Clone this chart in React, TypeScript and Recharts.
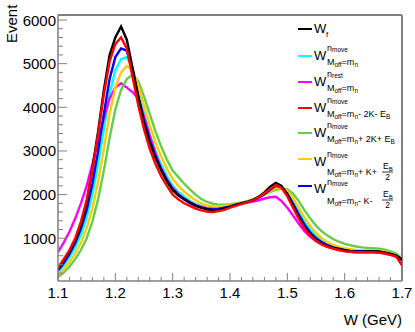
import { LineChart, Line, XAxis, YAxis, ReferenceLine } from 'recharts'

const FONT = 'Liberation Sans, Arial, Helvetica, sans-serif'
const AXIS = '#808080'

// bin centres (GeV)
const wBins = [
  1.1, 1.11, 1.12, 1.13, 1.14, 1.15, 1.16, 1.17, 1.18, 1.19,
  1.2, 1.21, 1.22, 1.23, 1.24, 1.25, 1.26, 1.27, 1.28, 1.29,
  1.3, 1.31, 1.32, 1.33, 1.34, 1.35, 1.36, 1.37, 1.38, 1.39,
  1.4, 1.41, 1.42, 1.43, 1.44, 1.45, 1.46, 1.47, 1.48, 1.49,
  1.5, 1.51, 1.52, 1.53, 1.54, 1.55, 1.56, 1.57, 1.58, 1.59,
  1.6, 1.61, 1.62, 1.63, 1.64, 1.65, 1.66, 1.67, 1.68, 1.69,
  1.7,
]

const wF = [
  300, 500, 700, 950, 1300, 1800, 2600, 3450, 4400, 5200,
  5600, 5850, 5550, 4900, 4250, 3650, 3200, 2850, 2550, 2300,
  2100, 1980, 1900, 1820, 1750, 1700, 1660, 1640, 1650, 1680,
  1720, 1760, 1800, 1830, 1880, 1950, 2050, 2180, 2270, 2200,
  2000, 1750, 1480, 1250, 1080, 960, 880, 820, 780, 750,
  720, 700, 690, 690, 700, 700, 690, 670, 640, 600,
  520,
]

const wMoveMn = [
  220, 370, 560, 790, 1080, 1470, 2000, 2700, 3500, 4300,
  4850, 5100, 5150, 4900, 4400, 3850, 3380, 3000, 2680, 2420,
  2200, 2060, 1950, 1860, 1790, 1740, 1700, 1690, 1700, 1720,
  1750, 1780, 1810, 1840, 1880, 1940, 2010, 2100, 2180, 2170,
  2060, 1850, 1610, 1380, 1190, 1050, 950, 870, 820, 780,
  750, 730, 720, 710, 710, 710, 700, 680, 650, 610,
  510,
]

const wRestMn = [
  680, 900, 1150, 1450, 1800, 2200, 2700, 3250, 3750, 4200,
  4450, 4550, 4450, 4350, 4200, 3800, 3350, 2950, 2600, 2350,
  2150, 2010, 1910, 1830, 1760, 1720, 1690, 1680, 1690, 1720,
  1750, 1780, 1800, 1820, 1840, 1870, 1910, 1940, 1950, 1850,
  1700, 1520, 1330, 1160, 1030, 930, 860, 800, 760, 730,
  710, 690, 680, 680, 680, 680, 670, 650, 620, 580,
  500,
]

const wMinus2K = [
  320, 520, 730, 1000, 1380, 1880, 2550, 3400, 4300, 5050,
  5450, 5600, 5350, 4700, 4050, 3500, 3050, 2700, 2420, 2200,
  2000, 1890, 1800, 1740, 1680, 1640, 1610, 1600, 1620, 1650,
  1700, 1740, 1780, 1820, 1870, 1940, 2030, 2130, 2220, 2150,
  1960, 1700, 1440, 1220, 1060, 940, 860, 800, 760, 730,
  700, 690, 680, 680, 680, 680, 670, 650, 620, 580,
  380,
]

const wPlus2K = [
  110, 210, 350, 520, 730, 1000, 1380, 1900, 2550, 3300,
  3950, 4400, 4650, 4750, 4600, 4250, 3850, 3450, 3100, 2800,
  2550, 2400, 2250, 2120, 2000, 1900, 1830, 1790, 1770, 1770,
  1780, 1800, 1820, 1850, 1890, 1940, 2000, 2060, 2110, 2140,
  2120, 2020, 1850, 1640, 1450, 1290, 1160, 1060, 980, 920,
  870, 840, 810, 790, 780, 770, 760, 740, 700, 650,
  540,
]

const wPlusK = [
  160, 290, 450, 650, 900, 1230, 1680, 2300, 3050, 3850,
  4450, 4800, 4950, 4850, 4500, 4050, 3600, 3200, 2870, 2590,
  2360, 2200, 2070, 1960, 1870, 1800, 1750, 1730, 1730, 1740,
  1760, 1780, 1810, 1840, 1880, 1930, 2000, 2080, 2150, 2160,
  2090, 1920, 1700, 1470, 1280, 1120, 1000, 910, 850, 800,
  770, 750, 730, 720, 720, 720, 710, 690, 660, 620,
  520,
]

const wMinusK = [
  260, 430, 640, 890, 1220, 1650, 2250, 3000, 3850, 4650,
  5150, 5350, 5300, 4850, 4250, 3700, 3250, 2880, 2580, 2330,
  2130, 1990, 1890, 1810, 1740, 1700, 1670, 1660, 1670, 1700,
  1730, 1770, 1800, 1830, 1870, 1930, 2010, 2110, 2200, 2170,
  2020, 1790, 1540, 1310, 1130, 1000, 910, 840, 790, 760,
  730, 710, 700, 700, 700, 700, 690, 670, 640, 600,
  500,
]

const xTicks = [
  1.1, 1.12, 1.14, 1.16, 1.18, 1.2, 1.22, 1.24, 1.26, 1.28,
  1.3, 1.32, 1.34, 1.36, 1.38, 1.4, 1.42, 1.44, 1.46, 1.48,
  1.5, 1.52, 1.54, 1.56, 1.58, 1.6, 1.62, 1.64, 1.66, 1.68, 1.7,
]
const xMajor = ['1.1', '1.2', '1.3', '1.4', '1.5', '1.6', '1.7']

const yTicks = [
  200, 400, 600, 800, 1000, 1200, 1400, 1600, 1800, 2000,
  2200, 2400, 2600, 2800, 3000, 3200, 3400, 3600, 3800, 4000,
  4200, 4400, 4600, 4800, 5000, 5200, 5400, 5600, 5800, 6000,
]
const yMajor = [1000, 2000, 3000, 4000, 5000, 6000]

const Y_MIN = 20
const Y_MAX = 6115

const COLORS = {
  wF: '#000000',
  wMoveMn: '#00ffff',
  wRestMn: '#ff00ff',
  wMinus2K: '#ff0000',
  wPlus2K: '#66cc4d',
  wPlusK: '#ffcc00',
  wMinusK: '#0000ff',
}

const data = wBins.map((w, i) => ({
  w,
  wF: wF[i],
  wMoveMn: wMoveMn[i],
  wRestMn: wRestMn[i],
  wMinus2K: wMinus2K[i],
  wPlus2K: wPlus2K[i],
  wPlusK: wPlusK[i],
  wMinusK: wMinusK[i],
}))

const XTick = ({ x, y, payload }: any) => {
  const label = payload.value.toFixed(2).replace(/0$/, '')
  const major = xMajor.includes(label)
  return (
    <g>
      <line x1={x} x2={x} y1={y} y2={y - (major ? 8 : 4)} stroke={AXIS} strokeWidth={1} />
      {major && (
        <text x={x} y={y + 17} textAnchor="middle" fontSize={15} fontFamily={FONT} fill="#000">
          {label}
        </text>
      )}
    </g>
  )
}

const YTick = ({ x, y, payload }: any) => {
  const major = yMajor.includes(payload.value)
  return (
    <g>
      <line x1={x} x2={x + (major ? 9 : 5)} y1={y} y2={y} stroke={AXIS} strokeWidth={1} />
      {major && (
        <text x={x - 2} y={y + 5.5} textAnchor="end" fontSize={15} fontFamily={FONT} fill="#000">
          {payload.value}
        </text>
      )}
    </g>
  )
}

// simple legend row: line sample, W, superscript n_xxx, subscript M_off=m_n...
const LegendEntry = ({ y, color, sup, tail }: any) => (
  <g fontFamily={FONT} fill="#000">
    <line x1={298} x2={312} y1={y} y2={y} stroke={color} strokeWidth={2} />
    <text x={314} y={y + 4} fontSize={13}>W</text>
    {!sup && <text x={326} y={y + 8} fontSize={8}>f</text>}
    {sup && (
      <text x={327} y={y - 5} fontSize={9}>
        n<tspan fontSize={6.5} dy={1}>{sup}</tspan>
      </text>
    )}
    {sup && (
      <text x={327} y={y + 9} fontSize={9}>
        M<tspan fontSize={6.5} dy={2}>off</tspan>
        <tspan dy={-2}>=m</tspan>
        <tspan fontSize={6.5} dy={2}>n</tspan>
        <tspan dy={-2}>{tail}</tspan>
        {tail && <tspan fontSize={6.5} dy={2}>B</tspan>}
      </text>
    )}
  </g>
)

// legend row with a E_B/2 fraction in the subscript
const FracEntry = ({ y, color, tail, wDy, supDy, subDy, fracDy }: any) => (
  <g fontFamily={FONT} fill="#000">
    <line x1={298} x2={312} y1={y} y2={y} stroke={color} strokeWidth={2} />
    <text x={314} y={y + wDy} fontSize={13}>W</text>
    <text x={327} y={y + supDy} fontSize={9}>
      n<tspan fontSize={6.5} dy={1}>move</tspan>
    </text>
    <text x={327} y={y + subDy} fontSize={9}>
      M<tspan fontSize={6.5} dy={1.5}>off</tspan>
      <tspan dy={-1.5}>=m</tspan>
      <tspan fontSize={6.5} dy={1.5}>n</tspan>
      <tspan dy={-1.5}>{tail}</tspan>
    </text>
    <text x={383} y={y + fracDy} fontSize={8.5}>
      E<tspan fontSize={6} dy={1.5}>B</tspan>
    </text>
    <line x1={382} x2={393} y1={y + fracDy + 3} y2={y + fracDy + 3} stroke="#000" strokeWidth={0.8} />
    <text x={387.5} y={y + fracDy + 11} fontSize={8.5} textAnchor="middle">2</text>
  </g>
)

export default function App() {
  return (
    <div style={{ position: 'absolute', left: 0, top: 0, width: 415, height: 332, background: '#fff' }}>
      <LineChart
        width={415}
        height={332}
        data={data}
        margin={{ top: 15, right: 13, left: 0, bottom: 0 }}
      >
        <XAxis
          dataKey="w"
          type="number"
          domain={[1.1, 1.7]}
          ticks={xTicks}
          interval={0}
          tickSize={0}
          tickMargin={0}
          tick={<XTick />}
          height={51}
          stroke={AXIS}
          strokeWidth={1.5}
          allowDataOverflow
        />
        <YAxis
          type="number"
          domain={[Y_MIN, Y_MAX]}
          ticks={yTicks}
          interval={0}
          tickSize={0}
          tickMargin={0}
          tick={<YTick />}
          width={58}
          stroke={AXIS}
          strokeWidth={1.5}
          allowDataOverflow
        />
        <ReferenceLine y={Y_MAX} stroke="#000" strokeWidth={1} />
        <ReferenceLine x={1.7} stroke={AXIS} strokeWidth={2} />
        <Line type="linear" dataKey="wMoveMn" stroke={COLORS.wMoveMn} strokeWidth={2.4} dot={false} isAnimationActive={false} />
        <Line type="linear" dataKey="wRestMn" stroke={COLORS.wRestMn} strokeWidth={2.4} dot={false} isAnimationActive={false} />
        <Line type="linear" dataKey="wPlus2K" stroke={COLORS.wPlus2K} strokeWidth={2.4} dot={false} isAnimationActive={false} />
        <Line type="linear" dataKey="wPlusK" stroke={COLORS.wPlusK} strokeWidth={2.4} dot={false} isAnimationActive={false} />
        <Line type="linear" dataKey="wMinusK" stroke={COLORS.wMinusK} strokeWidth={2.4} dot={false} isAnimationActive={false} />
        <Line type="linear" dataKey="wF" stroke={COLORS.wF} strokeWidth={2.4} dot={false} isAnimationActive={false} />
        <Line type="linear" dataKey="wMinus2K" stroke={COLORS.wMinus2K} strokeWidth={2.4} dot={false} isAnimationActive={false} />
      </LineChart>
      <svg
        width={415}
        height={332}
        style={{ position: 'absolute', left: 0, top: 0, pointerEvents: 'none' }}
      >
        <text
          x={0}
          y={0}
          transform="translate(17, 43) rotate(-90)"
          fontSize={15}
          fontFamily={FONT}
          fill="#000"
        >
          Event
        </text>
        <text x={402} y={325} textAnchor="end" fontSize={15} fontFamily={FONT} fill="#000">
          W (GeV)
        </text>
        <LegendEntry y={29} color={COLORS.wF} />
        <LegendEntry y={56} color={COLORS.wMoveMn} sup="move" tail="" />
        <LegendEntry y={82} color={COLORS.wRestMn} sup="rest" tail="" />
        <LegendEntry y={108} color={COLORS.wMinus2K} sup="move" tail="- 2K- E" />
        <LegendEntry y={133} color={COLORS.wPlus2K} sup="move" tail="+ 2K+ E" />
        <FracEntry y={159} color={COLORS.wPlusK} tail="+ K+" wDy={7} supDy={-2} subDy={16} fracDy={10} />
        <FracEntry y={186} color={COLORS.wMinusK} tail="- K-" wDy={7} supDy={-1} subDy={18} fracDy={11} />
      </svg>
    </div>
  )
}
